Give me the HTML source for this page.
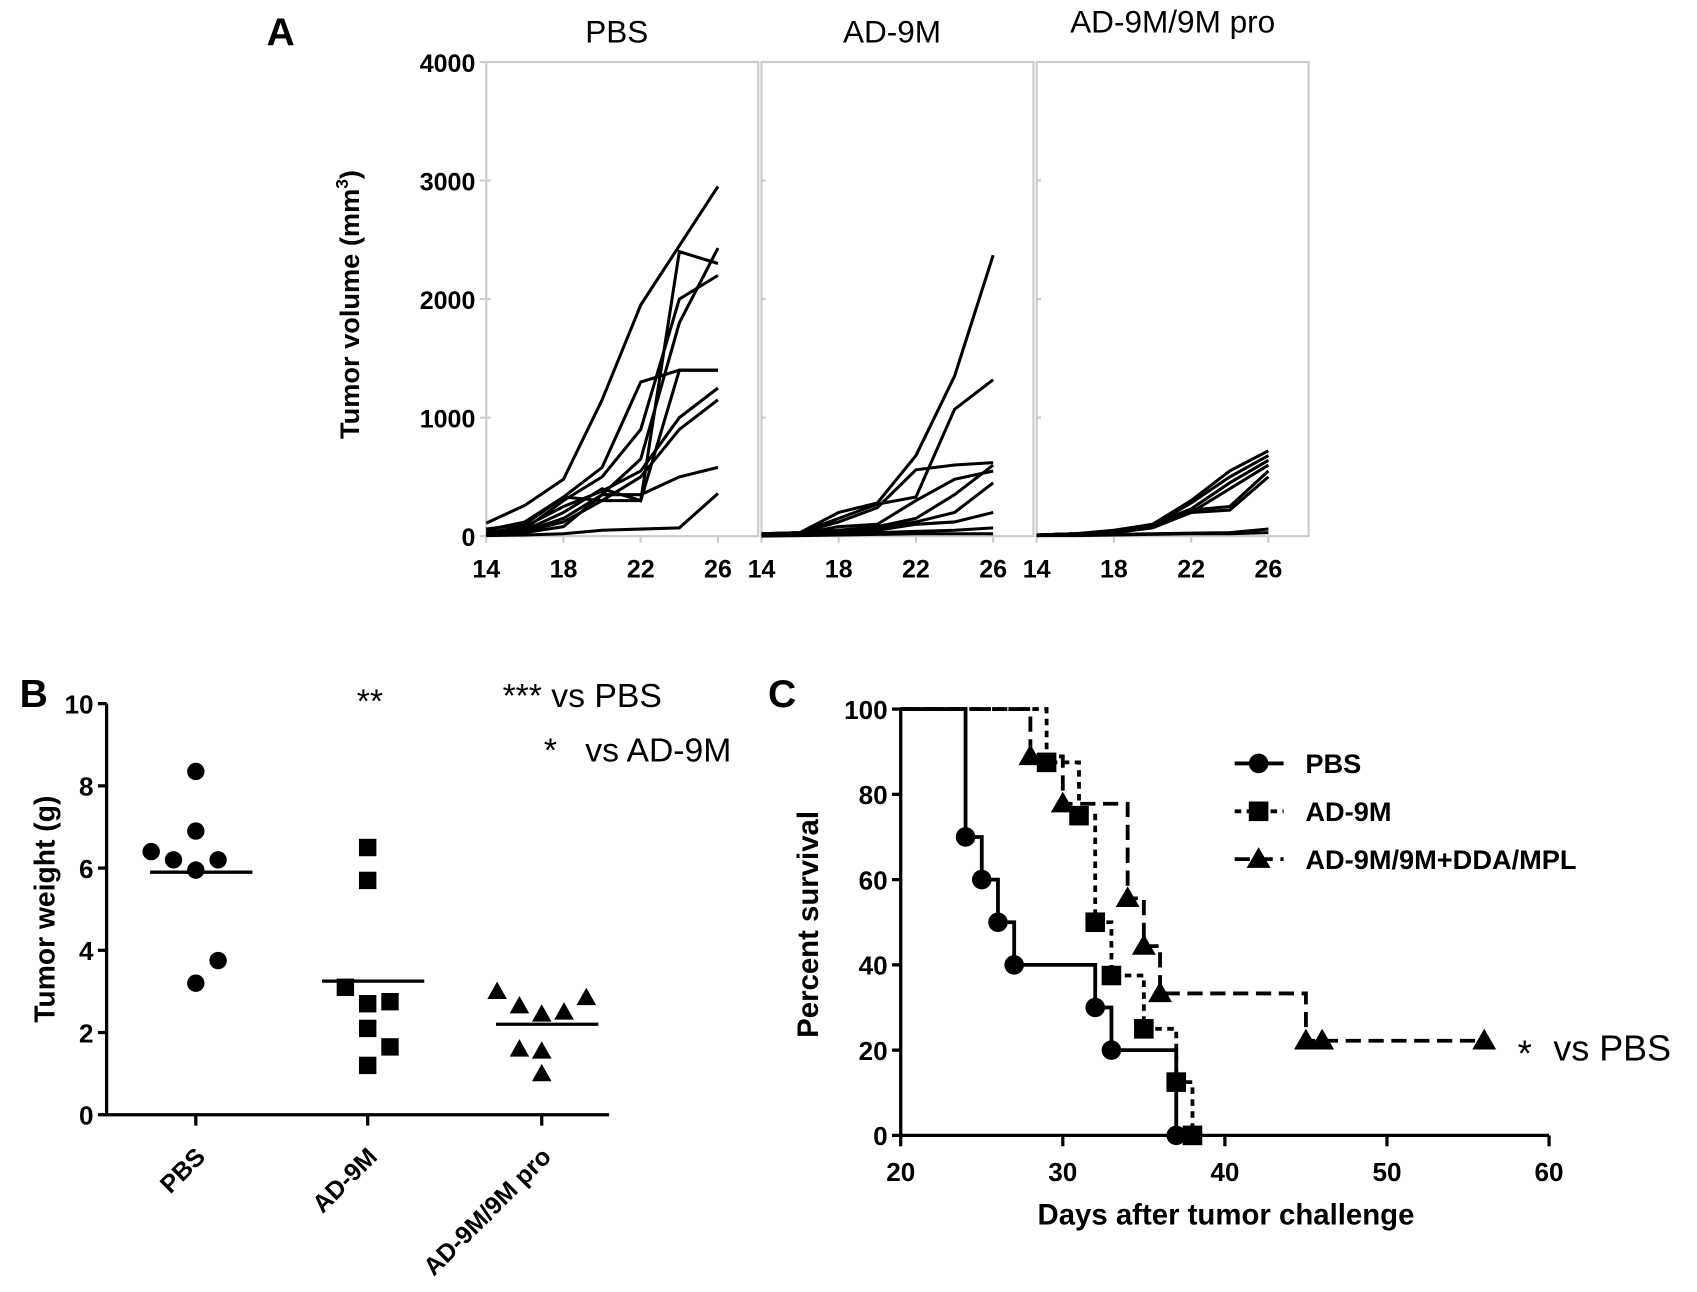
<!DOCTYPE html>
<html><head><meta charset="utf-8"><style>
html,body{margin:0;padding:0;background:#fff;}
svg{display:block;font-family:"Liberation Sans",Arial,sans-serif;}
</style></head><body>
<svg id="fig" width="1697" height="1292" viewBox="0 0 1560 1188" preserveAspectRatio="none" xmlns="http://www.w3.org/2000/svg">
<g id="pa"></g>
<g id="pb"></g>
<g id="pc"></g>
</svg>
<script>
// Panel A data
const daysA = [14,16,18,20,22,24,26];
const groupTitlesA = ["PBS","AD-9M","AD-9M/9M pro"];
const yTicksA = [0,1000,2000,3000,4000];
const xTicksA = [14,18,22,26];
const pbsVolumes = [
 [110,260,480,1150,1950,2450,2950],
 [50,120,330,580,1300,1400,1400],
 [30,60,300,500,900,2000,2200],
 [20,50,200,400,300,2400,2300],
 [10,40,150,350,650,1800,2430],
 [30,80,250,380,550,1000,1250],
 [20,40,120,300,500,900,1150],
 [10,30,80,350,350,500,580],
 [5,10,20,50,60,70,360],
 [60,100,330,300,300,1400,1400]
];
const ad9mVolumes = [
 [20,30,200,280,680,1350,2370],
 [20,30,150,270,330,1070,1320],
 [20,30,120,240,560,600,620],
 [10,20,80,100,300,480,550],
 [10,20,50,80,150,350,600],
 [10,20,50,70,120,200,450],
 [5,10,30,50,100,120,200],
 [5,10,20,30,40,50,70],
 [0,5,10,15,20,20,20]
];
const proVolumes = [
 [10,20,50,100,300,550,720],
 [10,20,40,90,280,500,680],
 [10,20,40,100,230,450,640],
 [10,20,40,80,200,400,600],
 [10,20,30,90,220,250,550],
 [10,20,30,70,200,220,500],
 [5,10,15,20,25,30,60],
 [5,5,10,15,20,20,30]
];
// Panel B data
const catsB = ["PBS","AD-9M","AD-9M/9M pro"];
const yTicksB = [0,2,4,6,8,10];
const pbsWeights = [8.35,6.9,6.4,6.2,5.95,6.2,3.75,3.2];
const pbsJitter = [0,0,-2,-1,0,1,1,0];
const ad9mWeights = [6.5,5.7,3.1,2.7,2.75,2.1,1.65,1.2];
const ad9mJitter = [0,0,-1,0,1,0,1,0];
const proWeights = [3.0,2.65,2.45,2.5,2.85,1.6,1.55,1.0];
const proJitter = [-2,-1,0,1,2,-1,0,0];
const meansB = [5.9,3.25,2.2];
// Panel C data
const xTicksC = [20,30,40,50,60];
const yTicksC = [0,20,40,60,80,100];
const pbsSurvDays = [20,24,25,26,27,32,33,37];
const pbsSurv = [100,70,60,50,40,30,20,0];
const ad9mSurvDays = [20,29,31,32,33,35,37,38];
const ad9mSurv = [100,87.5,75,50,37.5,25,12.5,0];
const proSurvDays = [20,28,30,34,35,36,45,46,56];
const proSurv = [100,88.9,77.8,55.6,44.4,33.3,22.2,22.2,22.2];

const NS="http://www.w3.org/2000/svg";
function mk(parent,tag,attrs,text){const e=document.createElementNS(NS,tag);for(const k in attrs)e.setAttribute(k,attrs[k]);if(text!==undefined)e.textContent=text;parent.appendChild(e);return e;}

// ---------- Panel A ----------
const pa=document.getElementById('pa');
const aTop=57,aBot=493,aW=250;
const aLefts=[447,700,953];
const yA=v=>aBot-(v/4000)*(aBot-aTop);
const xA=(i,d)=>aLefts[i]+(d-14)*17.75;
let t=mk(pa,'text',{x:258,y:42,'font-size':36,'font-weight':'bold','text-anchor':'middle'},'A');

t=mk(pa,'text',{transform:'translate(330,280) rotate(-90)','font-size':25,'font-weight':'bold','text-anchor':'middle'});

t.innerHTML='Tumor volume (mm<tspan dy="-10" font-size="16">3</tspan><tspan dy="10">)</tspan>';
yTicksA.forEach(v=>{
 const l=mk(pa,'line',{x1:441,x2:447,y1:yA(v),y2:yA(v),stroke:'#ccc','stroke-width':2});
 
 const tx=mk(pa,'text',{x:437,y:yA(v)+9,'font-size':23,'font-weight':'bold','text-anchor':'end'},String(v));
 
});
const groupsA=[pbsVolumes,ad9mVolumes,proVolumes];
groupsA.forEach((g,i)=>{
 const L=aLefts[i];
 const fr=mk(pa,'rect',{x:L,y:aTop,width:aW,height:aBot-aTop,fill:'none',stroke:'#ccc','stroke-width':2});
 
 const ti=mk(pa,'text',{x:L+(i==2?125:120),y:i==2?30:39,'font-size':29,'text-anchor':'middle'},groupTitlesA[i]);
 
 yTicksA.forEach(v=>{if(v>0&&v<4000){const tk=mk(pa,'line',{x1:L,x2:L+4,y1:yA(v),y2:yA(v),stroke:'#ccc','stroke-width':2});}});
 xTicksA.forEach(d=>{
  const tk=mk(pa,'line',{x1:xA(i,d),x2:xA(i,d),y1:aBot,y2:aBot+6,stroke:'#ccc','stroke-width':2});
  
  const tx=mk(pa,'text',{x:xA(i,d),y:aBot+38,'font-size':23,'font-weight':'bold','text-anchor':'middle'},String(d));
  
 });
 g.forEach(s=>{
  const p=mk(pa,'polyline',{points:s.map((v,j)=>xA(i,daysA[j])+','+yA(v)).join(' '),fill:'none',stroke:'#000','stroke-width':2.8});
  
 });
});

// ---------- Panel B ----------
const pb=document.getElementById('pb');
const bL=98,bTop=647,bBot=1025,bR=560;
const yB=v=>bBot-(v/10)*(bBot-bTop);
const catX=[180,338,498];
t=mk(pb,'text',{x:18,y:650,'font-size':36,'font-weight':'bold'},'B');

t=mk(pb,'text',{transform:'translate(50,836) rotate(-90)','font-size':26,'font-weight':'bold','text-anchor':'middle'},'Tumor weight (g)');

let ax=mk(pb,'path',{d:`M${bL},${bTop} V${bBot} H${bR}`,fill:'none',stroke:'#000','stroke-width':3});

yTicksB.forEach(v=>{
 const l=mk(pb,'line',{x1:bL-8,x2:bL,y1:yB(v),y2:yB(v),stroke:'#000','stroke-width':3});
 
 const tx=mk(pb,'text',{x:bL-12,y:yB(v)+9,'font-size':24,'font-weight':'bold','text-anchor':'end'},String(v));
 
});
catsB.forEach((c,i)=>{
 const l=mk(pb,'line',{x1:catX[i],x2:catX[i],y1:bBot,y2:bBot+10,stroke:'#000','stroke-width':3});
 
 const tx=mk(pb,'text',{transform:`translate(${catX[i]+10},${bBot+40}) rotate(-45)`,'font-size':23,'font-weight':'bold','text-anchor':'end'},c);
 
});
function pts(vals,jit,ci,shape){
 vals.forEach((v,j)=>{
  const x=catX[ci]+jit[j]*20.5,y=yB(v);let e;
  if(shape==0)e=mk(pb,'circle',{cx:x,cy:y,r:8,fill:'#000'});
  else if(shape==1)e=mk(pb,'rect',{x:x-8,y:y-8,width:16,height:16,fill:'#000'});
  else e=mk(pb,'polygon',{points:`${x},${y-9} ${x-9},${y+7} ${x+9},${y+7}`,fill:'#000'});
  
 });
}
pts(pbsWeights,pbsJitter,0,0);pts(ad9mWeights,ad9mJitter,1,1);pts(proWeights,proJitter,2,2);
meansB.forEach((m,i)=>{
 const l=mk(pb,'line',{x1:catX[i]-42,x2:catX[i]+52,y1:yB(m),y2:yB(m),stroke:'#000','stroke-width':3});
 
});
[['**',340,655,'middle'],['*** vs PBS',462,650,'start'],['*',506,700,'middle'],['vs AD-9M',538,700,'start']].forEach(a=>{
 const tx=mk(pb,'text',{x:a[1],y:a[2],'font-size':31,'text-anchor':a[3]},a[0]);
 
});

// ---------- Panel C ----------
const pc=document.getElementById('pc');
const cL=828,cR=1424,cTop=652,cBot=1044;
const xC=d=>cL+(d-20)/40*(cR-cL);
const yC=v=>cBot-v/100*(cBot-cTop);
t=mk(pc,'text',{x:706,y:650,'font-size':36,'font-weight':'bold'},'C');

t=mk(pc,'text',{transform:'translate(752,850) rotate(-90)','font-size':27,'font-weight':'bold','text-anchor':'middle'},'Percent survival');

t=mk(pc,'text',{x:1127,y:1126,'font-size':27,'font-weight':'bold','text-anchor':'middle'},'Days after tumor challenge');

ax=mk(pc,'path',{d:`M${cL},${cTop} V${cBot} H${cR}`,fill:'none',stroke:'#000','stroke-width':3});

yTicksC.forEach(v=>{
 const l=mk(pc,'line',{x1:cL-8,x2:cL,y1:yC(v),y2:yC(v),stroke:'#000','stroke-width':3});
 
 const tx=mk(pc,'text',{x:cL-12,y:yC(v)+9,'font-size':24,'font-weight':'bold','text-anchor':'end'},String(v));
 
});
xTicksC.forEach(d=>{
 const l=mk(pc,'line',{x1:xC(d),x2:xC(d),y1:cBot,y2:cBot+10,stroke:'#000','stroke-width':3});
 
 const tx=mk(pc,'text',{x:xC(d),y:cBot+42,'font-size':24,'font-weight':'bold','text-anchor':'middle'},String(d));
 
});
function marker(g,shape,x,y){
 let e;
 if(shape==0)e=mk(g,'circle',{cx:x,cy:y,r:9,fill:'#000'});
 else if(shape==1)e=mk(g,'rect',{x:x-9,y:y-9,width:18,height:18,fill:'#000'});
 else e=mk(g,'polygon',{points:`${x},${y-11} ${x-11},${y+8} ${x+11},${y+8}`,fill:'#000'});
 return e;
}
function km(days,surv,shape,dash,name){
 let d=`M${xC(days[0])},${yC(surv[0])}`;
 for(let i=1;i<days.length;i++){d+=` H${xC(days[i])} V${yC(surv[i])}`;}
 const p=mk(pc,'path',{d:d,fill:'none',stroke:'#000','stroke-width':3.5,'stroke-dasharray':dash});
 
 for(let i=1;i<days.length;i++){
  const m=marker(pc,shape,xC(days[i]),yC(surv[i]));
  
 }
}
km(pbsSurvDays,pbsSurv,0,'none','pbs');
km(ad9mSurvDays,ad9mSurv,1,'6,5','ad9m');
km(proSurvDays,proSurv,2,'14,7','ad9m-pro');
const legend=mk(pc,'g',{});

[['PBS','none',0,702],['AD-9M','6,5',1,746],['AD-9M/9M+DDA/MPL','14,7',2,790]].forEach(a=>{
 const l=mk(legend,'line',{x1:1135,x2:1180,y1:a[3],y2:a[3],stroke:'#000','stroke-width':3.5,'stroke-dasharray':a[1]});
 
 const m=marker(legend,a[2],1157,a[3]);
 
 const tx=mk(legend,'text',{x:1200,y:a[3]+9,'font-size':25,'font-weight':'bold'},a[0]);
 
});
t=mk(pc,'text',{x:1395,y:980,'font-size':34},'*');

t=mk(pc,'text',{x:1428,y:975,'font-size':33},'vs PBS');

</script>
</body></html>
